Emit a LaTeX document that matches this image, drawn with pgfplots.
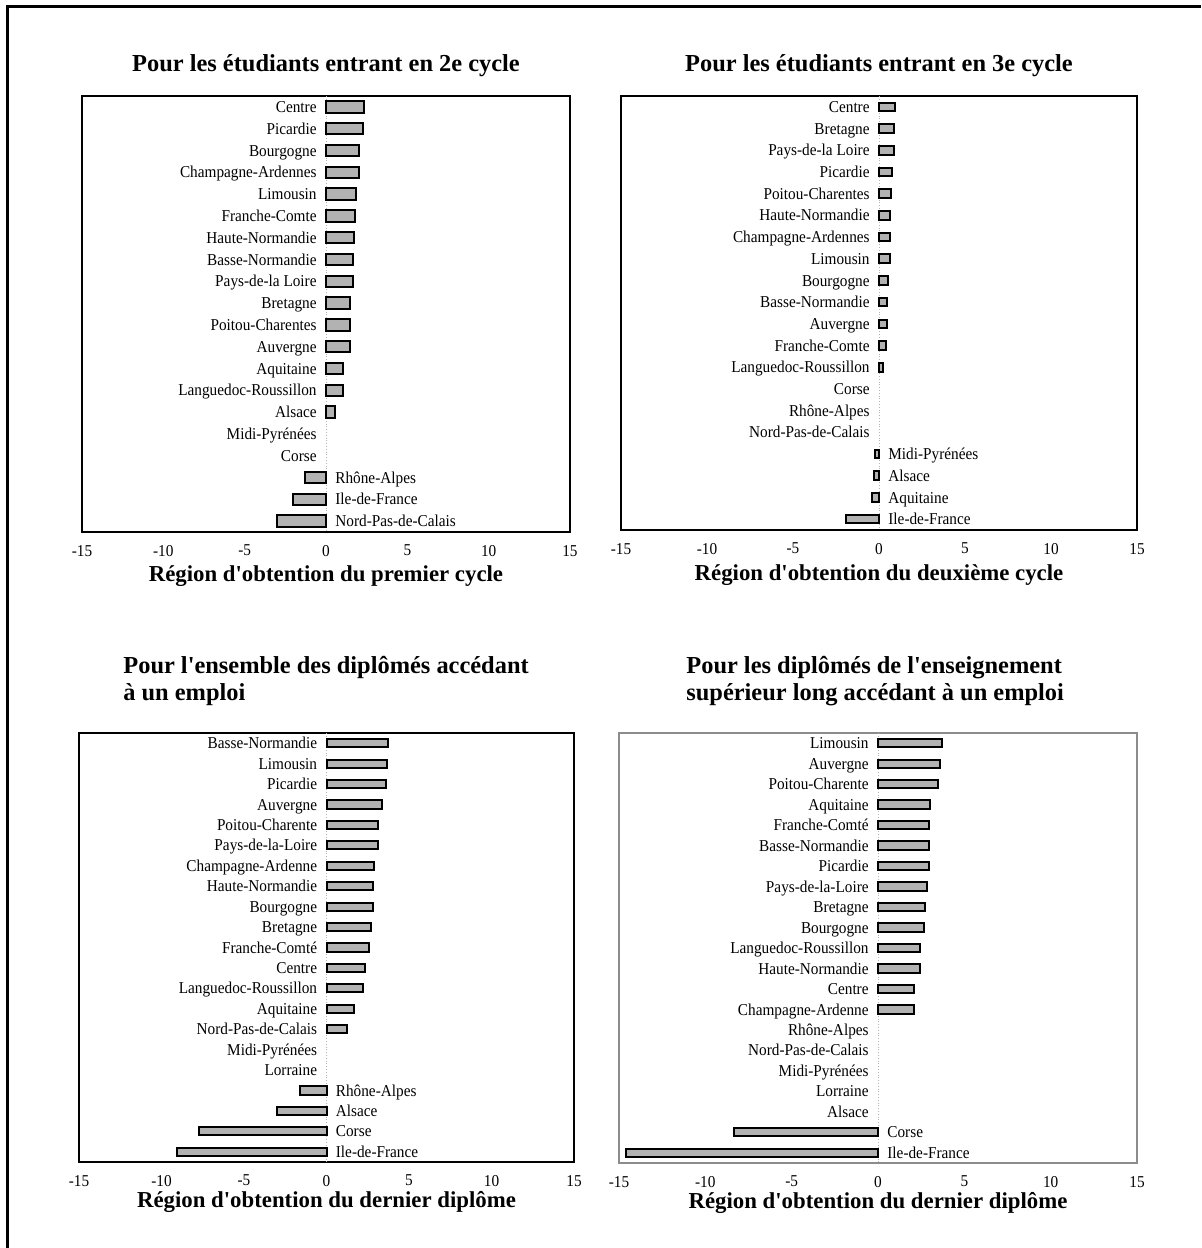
\documentclass[border=0pt]{standalone}
\usepackage{fontspec}
\setmainfont{Liberation Serif}
\newfontfamily\labfont[FakeStretch=0.92]{Liberation Serif}
\usepackage{pgfplots}
\usepackage{pgfplotstable}
\pgfplotsset{compat=1.18}

\definecolor{barfill}{gray}{0.70}
\newcommand{\lab}{\labfont\fontsize{8.3}{9.5}\selectfont}
\newcommand{\q}{\textquotesingle}

% pos;val;name;xl;xr  (val nan = no bar; xl = label left of 0, xr = label right of 0)
\pgfplotstableread[col sep=semicolon]{
pos;val;name;xl;xr
0;2.31;Centre;0;nan
1;2.27;Picardie;0;nan
2;2.04;Bourgogne;0;nan
3;2.00;Champagne-Ardennes;0;nan
4;1.84;Limousin;0;nan
5;1.78;Franche-Comte;0;nan
6;1.73;Haute-Normandie;0;nan
7;1.69;Basse-Normandie;0;nan
8;1.69;Pays-de-la Loire;0;nan
9;1.47;Bretagne;0;nan
10;1.47;Poitou-Charentes;0;nan
11;1.47;Auvergne;0;nan
12;1.02;Aquitaine;0;nan
13;1.02;Languedoc-Roussillon;0;nan
14;0.53;Alsace;0;nan
15;nan;Midi-Pyrénées;0;nan
16;nan;Corse;0;nan
17;-1.29;Rhône-Alpes;nan;0
18;-2.04;Ile-de-France;nan;0
19;-3.02;Nord-Pas-de-Calais;nan;0
}\tabA

\pgfplotstableread[col sep=semicolon]{
pos;val;name;xl;xr
0;0.91;Centre;0;nan
1;0.87;Bretagne;0;nan
2;0.87;Pays-de-la Loire;0;nan
3;0.77;Picardie;0;nan
4;0.71;Poitou-Charentes;0;nan
5;0.65;Haute-Normandie;0;nan
6;0.65;Champagne-Ardennes;0;nan
7;0.65;Limousin;0;nan
8;0.53;Bourgogne;0;nan
9;0.47;Basse-Normandie;0;nan
10;0.47;Auvergne;0;nan
11;0.43;Franche-Comte;0;nan
12;0.24;Languedoc-Roussillon;0;nan
13;nan;Corse;0;nan
14;nan;Rhône-Alpes;0;nan
15;nan;Nord-Pas-de-Calais;0;nan
16;-0.24;Midi-Pyrénées;nan;0
17;-0.30;Alsace;nan;0
18;-0.40;Aquitaine;nan;0
19;-1.90;Ile-de-France;nan;0
}\tabB

\pgfplotstableread[col sep=semicolon]{
pos;val;name;xl;xr
0;3.72;Basse-Normandie;0;nan
1;3.68;Limousin;0;nan
2;3.58;Picardie;0;nan
3;3.39;Auvergne;0;nan
4;3.13;Poitou-Charente;0;nan
5;3.13;Pays-de-la-Loire;0;nan
6;2.85;Champagne-Ardenne;0;nan
7;2.83;Haute-Normandie;0;nan
8;2.83;Bourgogne;0;nan
9;2.68;Bretagne;0;nan
10;2.58;Franche-Comté;0;nan
11;2.36;Centre;0;nan
12;2.22;Languedoc-Roussillon;0;nan
13;1.69;Aquitaine;0;nan
14;1.24;Nord-Pas-de-Calais;0;nan
15;nan;Midi-Pyrénées;0;nan
16;nan;Lorraine;0;nan
17;-1.59;Rhône-Alpes;nan;0
18;-3.03;Alsace;nan;0
19;-7.74;Corse;nan;0
20;-9.07;Ile-de-France;nan;0
}\tabC

\pgfplotstableread[col sep=semicolon]{
pos;val;name;xl;xr
0;3.70;Limousin;0;nan
1;3.60;Auvergne;0;nan
2;3.48;Poitou-Charente;0;nan
3;3.04;Aquitaine;0;nan
4;2.96;Franche-Comté;0;nan
5;2.96;Basse-Normandie;0;nan
6;2.94;Picardie;0;nan
7;2.82;Pays-de-la-Loire;0;nan
8;2.70;Bretagne;0;nan
9;2.64;Bourgogne;0;nan
10;2.46;Languedoc-Roussillon;0;nan
11;2.46;Haute-Normandie;0;nan
12;2.06;Centre;0;nan
13;2.06;Champagne-Ardenne;0;nan
14;nan;Rhône-Alpes;0;nan
15;nan;Nord-Pas-de-Calais;0;nan
16;nan;Midi-Pyrénées;0;nan
17;nan;Lorraine;0;nan
18;nan;Alsace;0;nan
19;-8.32;Corse;nan;0
20;-14.6;Ile-de-France;nan;0
}\tabD

\pgfplotsset{
  panel/.style={
    scale only axis,
    anchor=south west,
    xmin=-15, xmax=15,
    xtick={-15,-10,...,15},
    ytick=\empty,
    y dir=reverse,
    ymin=-0.5, ymax=#1-0.5,
    major tick length=0pt,
    axis line style={line width=1pt},
    tick label style={font=\lab},
    /pgf/number format/assume math mode=true,
    xticklabel style={yshift=-3pt},
    extra x ticks={0},
    extra x tick labels={},
    extra x tick style={grid=major, major grid style={black!30, densely dotted}},
    xlabel style={font=\fontsize{11.4}{13}\selectfont\bfseries,
      at={(axis description cs:0.5,0)}, anchor=center, yshift=-21pt},
    title style={font=\fontsize{12.2}{13.5}\selectfont\bfseries},
    unbounded coords=discard,
  },
  bars/.style={xbar, bar shift=0pt, bar width=#1, fill=barfill,
    draw=black, line width=1pt},
  names/.style={only marks, mark=none, nodes near coords,
    point meta=explicit symbolic,
    nodes near coords style={anchor=#1, font=\lab, inner xsep=4.5pt,
      inner ysep=0pt, yshift=-2.8pt, text=black}},
}

\begin{document}
\begin{tikzpicture}
\useasboundingbox (0,0) rectangle (600.5pt,624pt);
\draw[line width=1.5pt] (3.5pt,0) -- (3.5pt,620.75pt) -- (600.5pt,620.75pt);

% haut gauche
\begin{axis}[panel=20, at={(41pt,358pt)}, width=244pt, height=218pt,
  title={Pour les étudiants entrant en 2e cycle},
  title style={at={(axis description cs:0.5,1)}, anchor=center, yshift=9pt},
  xlabel={Région d\q obtention du premier cycle},
  xlabel style={yshift=-1pt}]
  \addplot[bars=0.52] table[x=val, y=pos] {\tabA};
  \addplot[names=base east] table[x=xl, y=pos, meta=name] {\tabA};
  \addplot[names=base west] table[x=xr, y=pos, meta=name] {\tabA};
\end{axis}

% haut droite
\begin{axis}[panel=20, at={(310.5pt,359pt)}, width=258pt, height=217pt,
  title={Pour les étudiants entrant en 3e cycle},
  title style={at={(axis description cs:0.5,1)}, anchor=center, yshift=9pt},
  xlabel={Région d\q obtention du deuxième cycle},
  xlabel style={yshift=-1.5pt}]
  \addplot[bars=0.40] table[x=val, y=pos] {\tabB};
  \addplot[names=base east] table[x=xl, y=pos, meta=name] {\tabB};
  \addplot[names=base west] table[x=xr, y=pos, meta=name] {\tabB};
\end{axis}

% bas gauche
\begin{axis}[panel=21, at={(39.5pt,43pt)}, width=247.5pt, height=214.5pt,
  title={Pour l\q ensemble des diplômés accédant\\à un emploi},
  title style={align=left, at={(axis description cs:0,1)}, anchor=south west,
    inner sep=0pt, xshift=22pt, yshift=7.5pt},
  xlabel={Région d\q obtention du dernier diplôme},
  xlabel style={yshift=1pt}]
  \addplot[bars=0.40] table[x=val, y=pos] {\tabC};
  \addplot[names=base east] table[x=xl, y=pos, meta=name] {\tabC};
  \addplot[names=base west] table[x=xr, y=pos, meta=name] {\tabC};
\end{axis}

% bas droite
\begin{axis}[panel=21, at={(309.5pt,42.5pt)}, width=259pt, height=215pt,
  axis line style={line width=0.8pt, black!45},
  title={Pour les diplômés de l\q enseignement\\supérieur long accédant à un emploi},
  title style={align=left, at={(axis description cs:0,1)}, anchor=south west,
    inner sep=0pt, xshift=33.5pt, yshift=7.5pt},
  xlabel={Région d\q obtention du dernier diplôme},
  xlabel style={yshift=1pt}]
  \addplot[bars=0.41] table[x=val, y=pos] {\tabD};
  \addplot[names=base east] table[x=xl, y=pos, meta=name] {\tabD};
  \addplot[names=base west] table[x=xr, y=pos, meta=name] {\tabD};
\end{axis}
\end{tikzpicture}
\end{document}
